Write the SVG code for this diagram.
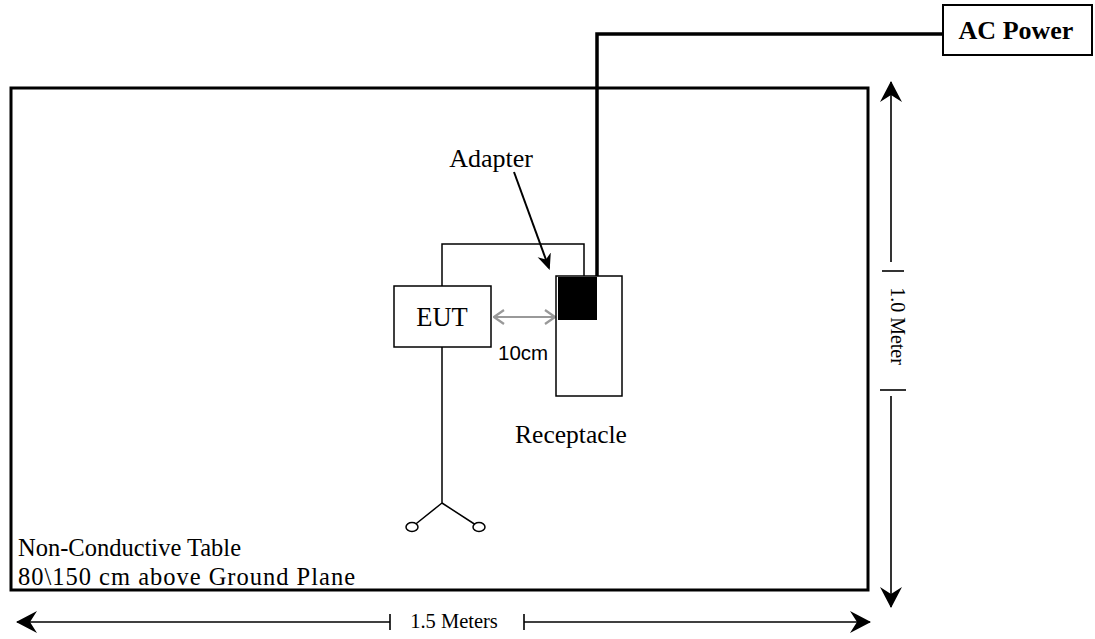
<svg xmlns="http://www.w3.org/2000/svg" width="1095" height="639" viewBox="0 0 1095 639">
<defs>
<style>
.serif{font-family:"Liberation Serif","Times New Roman",serif;fill:#000}
.sans{font-family:"Liberation Sans",Arial,sans-serif;fill:#000}
.box{fill:#fff;stroke:#000;stroke-width:1.5}
.wire{fill:none;stroke:#000;stroke-width:1.5}
.dim{fill:none;stroke:#000;stroke-width:1.6}
</style>
<marker id="ah" viewBox="0 0 22 22" refX="20" refY="11" markerWidth="22" markerHeight="22" markerUnits="userSpaceOnUse" orient="auto">
<path d="M0,0 L21,11 L0,22 L7,11 Z" fill="#000"/>
</marker>
<marker id="ah2" viewBox="0 0 16 16" refX="14" refY="8" markerWidth="16" markerHeight="16" markerUnits="userSpaceOnUse" orient="auto">
<path d="M0,1 L16,8 L0,15 L5,8 Z" fill="#000"/>
</marker>
<marker id="ga" viewBox="0 0 12 16" refX="11" refY="8" markerWidth="12" markerHeight="16" markerUnits="userSpaceOnUse" orient="auto-start-reverse">
<path d="M1,1 L11,8 L1,15" fill="none" stroke="#999" stroke-width="2.2"/>
</marker>
</defs>
<rect width="1095" height="639" fill="#fff"/>
<g id="table">
<rect x="11" y="88" width="857" height="502" fill="none" stroke="#000" stroke-width="3"/>
<text class="serif" x="18" y="556" font-size="24.5">Non-Conductive Table</text>
<text class="serif" x="18" y="585" font-size="24.5" textLength="337" lengthAdjust="spacing">80\150 cm above Ground Plane</text>
</g>
<g id="connectors">
<path class="wire" d="M442,286 V244 H584 V276"/>
<path class="wire" d="M442,347 V503 L412,527 M442,503 L479,527"/>
<ellipse cx="412" cy="527" rx="6" ry="4.5" fill="#fff" stroke="#000" stroke-width="1.5"/>
<ellipse cx="479" cy="527" rx="6" ry="4.5" fill="#fff" stroke="#000" stroke-width="1.5"/>
<path d="M597,278 V34 H943" fill="none" stroke="#000" stroke-width="3.5"/>
<line x1="514" y1="172" x2="549" y2="268" stroke="#000" stroke-width="2" marker-end="url(#ah2)"/>
<line x1="494" y1="317" x2="555" y2="317" stroke="#999" stroke-width="2" marker-start="url(#ga)" marker-end="url(#ga)"/>
</g>
<g id="eut">
<rect class="box" x="394" y="286" width="97" height="61"/>
<text class="serif" x="442" y="326" font-size="26.5" text-anchor="middle">EUT</text>
</g>
<g id="receptacle">
<rect class="box" x="556" y="276" width="66" height="120"/>
<rect x="558" y="277" width="39" height="43" fill="#000"/>
<text class="serif" x="571" y="443" font-size="25.5" text-anchor="middle">Receptacle</text>
</g>
<g id="adapter-label">
<text class="serif" x="491" y="167" font-size="26" text-anchor="middle">Adapter</text>
</g>
<g id="distance-label">
<text class="sans" x="498" y="360" font-size="20.5">10cm</text>
</g>
<g id="ac-power">
<rect x="943" y="5" width="149" height="50" fill="#fff" stroke="#000" stroke-width="2"/>
<text class="serif" x="1016" y="39" font-size="26" font-weight="bold" text-anchor="middle">AC Power</text>
</g>
<g id="dim-vertical">
<line class="dim" x1="891" y1="262" x2="891" y2="82" marker-end="url(#ah)"/>
<line class="dim" x1="882" y1="271" x2="904" y2="271"/>
<text class="serif" transform="translate(891,326) rotate(90)" font-size="20" text-anchor="middle">1.0 Meter</text>
<line class="dim" x1="880" y1="390" x2="906" y2="390"/>
<line class="dim" x1="891" y1="396" x2="891" y2="607" marker-end="url(#ah)"/>
</g>
<g id="dim-horizontal">
<line class="dim" x1="390" y1="622" x2="17" y2="622" marker-end="url(#ah)"/>
<line class="dim" x1="390" y1="614" x2="390" y2="630"/>
<text class="serif" x="454" y="628" font-size="20.5" text-anchor="middle">1.5 Meters</text>
<line class="dim" x1="524" y1="614" x2="524" y2="630"/>
<line class="dim" x1="524" y1="622" x2="870" y2="622" marker-end="url(#ah)"/>
</g>
</svg>
